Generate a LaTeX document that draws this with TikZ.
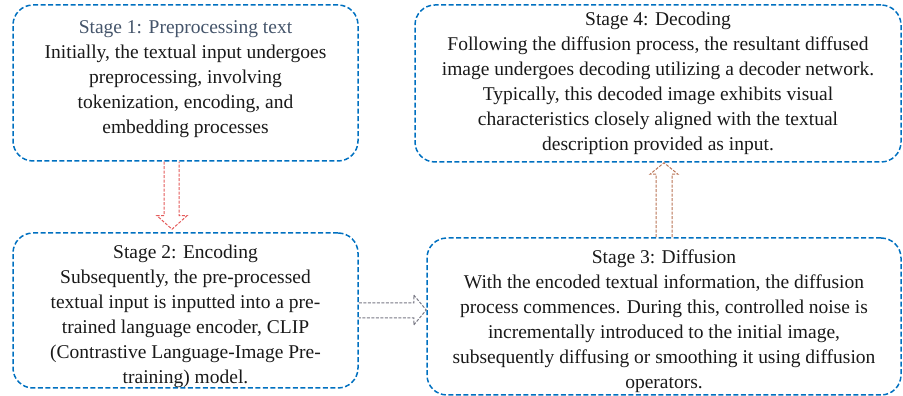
\documentclass[tikz,border=0pt]{standalone}
\usepackage{fontspec}
\setmainfont{Liberation Serif}
\usetikzlibrary{calc}
\definecolor{stageblue}{RGB}{0,112,192}
\definecolor{titlegray}{RGB}{68,84,106}
\definecolor{arrowred}{RGB}{228,90,90}
\definecolor{arrowgray}{RGB}{120,120,132}
\definecolor{arrowbrown}{RGB}{185,115,85}
\tikzset{
  stagebox/.style={draw=stageblue, line width=1.5pt, dash pattern=on 5pt off 2.5pt,
    rounded corners=20pt, inner sep=0pt},
  stagetext/.style={align=center, inner sep=0pt,
    font=\fontsize{19.5}{25}\selectfont, text=black!90},
  hollowarrow/.style={line width=1pt, dash pattern=on 3pt off 1.5pt, line join=miter}
}
\begin{document}
\begin{tikzpicture}[x=1pt,y=1pt]
        \useasboundingbox (0,0) rectangle (903,396);

        \begin{scope}[every node/.style={stagebox}]
          \node[minimum width=345pt, minimum height=156pt] (s1) at (185.5,313) {};
          \node[minimum width=345pt, minimum height=155pt] (s2) at (185.5,85.5) {};
          \node[minimum width=474pt, minimum height=157pt] (s3) at (664,79.5) {};
          \node[minimum width=486pt, minimum height=157pt] (s4) at (658,312.5) {};
        \end{scope}

        \begin{scope}[every node/.style={stagetext}]
          \node (t1) at ($(s1.center)+(0,4)$)
            {\textcolor{titlegray}{Stage 1: Preprocessing text}\\
             Initially, the textual input undergoes\\
             preprocessing, involving\\
             tokenization, encoding, and\\
             embedding processes};
          \node (t2) at ($(s2.center)+(0,-5.5)$)
            {Stage 2: Encoding\\
             Subsequently, the pre-processed\\
             textual input is inputted into a pre-\\
             trained language encoder, CLIP\\
             (Contrastive Language-Image Pre-\\
             training) model.};
          \node (t3) at ($(s3.center)+(0,-4.5)$)
            {Stage 3: Diffusion\\
             With the encoded textual information, the diffusion\\
             process commences. During this, controlled noise is\\
             incrementally introduced to the initial image,\\
             subsequently diffusing or smoothing it using diffusion\\
             operators.};
          \node (t4) at (s4.center)
            {Stage 4: Decoding\\
             Following the diffusion process, the resultant diffused\\
             image undergoes decoding utilizing a decoder network.\\
             Typically, this decoded image exhibits visual\\
             characteristics closely aligned with the textual\\
             description provided as input.};
        \end{scope}

        \begin{scope}[every path/.style={hollowarrow}]
          \draw[arrowred] ($(s1.south)+(-21.5,0)$) -- ++(0,-54) -- ++(-7,0)
            -- ($(s2.north)+(-13.5,3)$) -- ($(s1.south)+(1.5,-54)$) -- ++(-8,0)
            -- ($(s1.south)+(-6.5,0)$);
          \draw[arrowgray] ($(s2.east)+(0,7.5)$) -- ++(55,0) -- ++(0,8)
            -- ($(s3.west)+(0,6.5)$) -- ($(s2.east)+(55,-14.5)$) -- ++(0,7)
            -- ($(s2.east)+(0,-7.5)$);
          \draw[arrowbrown] ($(s3.north)+(-8,0)$) -- ++(0,63) -- ++(-6,0)
            -- (s4.south -| s3.north) -- ($(s3.north)+(14,63)$) -- ++(-6,0)
            -- ($(s3.north)+(8,0)$);
        \end{scope}

      \end{tikzpicture}
\end{document}
